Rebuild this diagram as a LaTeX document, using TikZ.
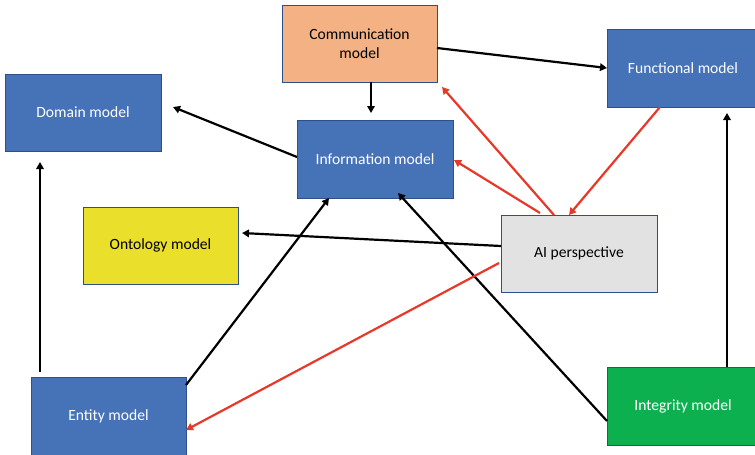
\documentclass[tikz,border=0pt]{standalone}
\usepackage{fontspec}
\setmainfont{Carlito}
\usetikzlibrary{arrows.meta}
\definecolor{boxblue}{HTML}{4672B8}
\definecolor{edgeblue}{HTML}{2F4F8A}
\definecolor{boxorange}{HTML}{F4B183}
\definecolor{boxyellow}{HTML}{EAE02C}
\definecolor{boxgreen}{HTML}{0DB04E}
\definecolor{boxgray}{HTML}{E2E2E2}
\definecolor{linkred}{HTML}{E8382A}
\tikzset{
  model/.style={draw=edgeblue, line width=0.8pt, inner sep=0pt, align=center,
    font=\fontsize{15.6}{19}\selectfont},
  bluebox/.style={model, fill=boxblue, text=white},
  link/.style={line width=2.2pt, -{Triangle[width=7.5pt,length=7pt]}},
  redlink/.style={link, draw=linkred},
}
\begin{document}
\begin{tikzpicture}[x=1pt,y=-1pt]
\useasboundingbox (0,0) rectangle (755,455);
% boxes (corners in picture units)
\node[model, fill=boxorange, minimum width=155pt, minimum height=77pt] (comm) at (359.5,43.5) {Communication\\model};
\node[bluebox, minimum width=152pt, minimum height=78pt] (func) at (683,68) {Functional model};
\node[bluebox, minimum width=156pt, minimum height=77pt] (dom) at (83,112.5) {Domain model};
\node[bluebox, minimum width=156pt, minimum height=78pt] (info) at (375,159) {Information model};
\node[model, fill=boxyellow, minimum width=155pt, minimum height=77pt] (onto) at (160.5,245.5) {Ontology model};
\node[model, fill=boxgray, minimum width=156pt, minimum height=77pt] (ai) at (579,253.5) {AI perspective};
\node[bluebox, minimum width=155pt, minimum height=78pt] (ent) at (108.5,416) {Entity model};
\node[bluebox, fill=boxgreen, minimum width=152pt, minimum height=78pt] (integ) at (683,406) {Integrity model};
% anchor points along box edges
\coordinate (commB) at (371,82);
\coordinate (infoT) at (371,113);
\coordinate (commR) at (437,48);
\coordinate (funcL) at (607,68);
\coordinate (infoL) at (297,157);
\coordinate (domR) at (173,107);
\coordinate (entT) at (40,372);
\coordinate (domB) at (40,162);
\coordinate (entTR) at (186,385);
\coordinate (infoB1) at (329,198);
\coordinate (integL) at (607,421);
\coordinate (infoB2) at (398,193);
\coordinate (integT) at (727,367);
\coordinate (funcB) at (727,113);
\coordinate (aiL1) at (501,246);
\coordinate (ontoR) at (242,233);
\coordinate (funcB2) at (660,107);
\coordinate (aiT1) at (569,215);
\coordinate (aiT2) at (554,215);
\coordinate (commBR) at (442,87);
\coordinate (aiT3) at (540,213);
\coordinate (infoR) at (454,160);
\coordinate (aiL2) at (499,263);
\coordinate (entR) at (186,430);
% black connectors
\draw[link] (commB) -- (infoT);
\draw[link] (commR) -- (funcL);
\draw[link] (infoL) -- (domR);
\draw[link] (entT) -- (domB);
\draw[link] (entTR) -- (infoB1);
\draw[link] (integL) -- (infoB2);
\draw[link] (integT) -- (funcB);
\draw[link] (aiL1) -- (ontoR);
% red connectors
\draw[redlink] (funcB2) -- (aiT1);
\draw[redlink] (aiT2) -- (commBR);
\draw[redlink] (aiT3) -- (infoR);
\draw[redlink] (aiL2) -- (entR);
\end{tikzpicture}
\end{document}
